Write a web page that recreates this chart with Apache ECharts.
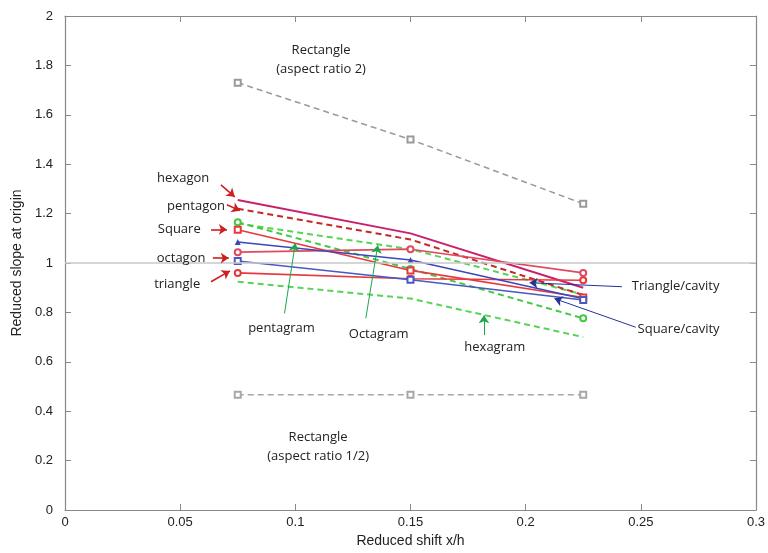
<!DOCTYPE html>
<html>
<head>
<meta charset="utf-8">
<script src="https://cdn.jsdelivr.net/npm/echarts@6/dist/echarts.min.js"></script>
<style>
  html, body { margin: 0; padding: 0; background: #fff; }
  #main { width: 768px; height: 553px; }
</style>
</head>
<body>
<div id="main"></div>
<script>
// reduced shift x/h
const shifts = [0.075, 0.15, 0.225];

// reduced slope at origin
const rectAR2 = [1.73, 1.50, 1.24];
const rectARhalf = [0.467, 0.467, 0.467];
const hexagon = [1.255, 1.12, 0.90];
const pentagon = [1.22, 1.095, 0.87];
const square = [1.135, 0.97, 0.86];
const octagon = [1.044, 1.056, 0.96];
const triangle = [0.96, 0.936, 0.93];
const triCavity = [1.085, 1.012, 0.855];
const sqCavity = [1.008, 0.932, 0.85];
const pentagram = [1.165, 0.976, 0.776];
const octagram = [1.16, 1.056, 0.872];
const hexagram = [0.924, 0.856, 0.70];

// annotations: text position and arrow (from, to), all in data units
const notes = [
  {text: 'Rectangle\n(aspect ratio 2)', at: [0.1112, 1.824]},
  {text: 'Rectangle\n(aspect ratio 1/2)', at: [0.1099, 0.256]},
  {text: 'hexagon', at: [0.0513, 1.344], color: '#cc2020', from: [0.0677, 1.316], to: [0.0737, 1.268]},
  {text: 'pentagon', at: [0.0569, 1.228], color: '#cc2020', from: [0.0703, 1.236], to: [0.0759, 1.212]},
  {text: 'Square', at: [0.0496, 1.136], color: '#cc2020', from: [0.0634, 1.136], to: [0.0703, 1.136]},
  {text: 'octagon', at: [0.0504, 1.02], color: '#cc2020', from: [0.0642, 1.02], to: [0.0711, 1.02]},
  {text: 'triangle', at: [0.0487, 0.912], color: '#cc2020', from: [0.0634, 0.924], to: [0.0716, 0.968]},
  {text: 'pentagram', at: [0.094, 0.736], color: '#1aa84a', from: [0.0953, 0.796], to: [0.1, 1.08]},
  {text: 'Octagram', at: [0.1362, 0.712], color: '#1aa84a', from: [0.1306, 0.776], to: [0.1358, 1.072]},
  {text: 'hexagram', at: [0.1866, 0.66], color: '#1aa84a', from: [0.1819, 0.708], to: [0.1819, 0.788]},
  {text: 'Triangle/cavity', at: [0.2651, 0.904], color: '#24339a', from: [0.2418, 0.904], to: [0.2017, 0.92]},
  {text: 'Square/cavity', at: [0.2664, 0.732], color: '#24339a', from: [0.2478, 0.74], to: [0.2125, 0.856]}
];

const toPairs = (vals) => shifts.map((x, i) => [x, vals[i]]);

function lineSeries(name, vals, color, dashed, symbol, width) {
  return {
    name: name,
    type: 'line',
    data: toPairs(vals),
    symbol: symbol || 'none',
    symbolSize: 6,
    showSymbol: !!symbol,
    lineStyle: {color: color, width: width || 1.6, type: dashed ? [6, 4] : 'solid'},
    itemStyle: {color: color, borderWidth: 1.3},
    z: 3
  };
}

const chart = echarts.init(document.getElementById('main'));

const arrows = notes.filter(n => n.from).map(n => [
  {coord: n.from, lineStyle: {color: n.color, width: n.color === '#cc2020' ? 1.6 : 1}},
  {coord: n.to}
]);

const boxAxis = {
  axisLine: {show: true, onZero: false, lineStyle: {color: '#888', width: 1.2}},
  axisTick: {show: true, inside: true, length: 6, lineStyle: {color: '#888'}},
  splitLine: {show: false}
};

const option = {
  backgroundColor: '#fff',
  animation: false,
  grid: {left: 65, right: 10, top: 16, bottom: 37},
  xAxis: [Object.assign({}, boxAxis, {
    type: 'value', min: 0, max: 0.3, interval: 0.05,
    name: 'Reduced shift x/h', nameLocation: 'middle', nameGap: 24,
    nameTextStyle: {fontFamily: 'Liberation Sans', fontSize: 14, color: '#222'},
    axisLabel: {fontFamily: 'Liberation Sans', fontSize: 13, color: '#222', margin: 6}
  }), Object.assign({}, boxAxis, {
    type: 'value', min: 0, max: 0.3, interval: 0.05, position: 'top',
    axisLabel: {show: false}
  })],
  yAxis: [Object.assign({}, boxAxis, {
    type: 'value', min: 0, max: 2, interval: 0.2,
    name: 'Reduced slope at origin', nameLocation: 'middle', nameGap: 40,
    nameTextStyle: {fontFamily: 'Liberation Sans', fontSize: 14, color: '#222'},
    axisLabel: {fontFamily: 'Liberation Sans', fontSize: 13, color: '#222', margin: 12}
  }), Object.assign({}, boxAxis, {
    type: 'value', min: 0, max: 2, interval: 0.2, position: 'right',
    axisLabel: {show: false}
  })],
  series: [
    {
      type: 'line', data: [], z: 1,
      markLine: {
        silent: true, symbol: 'none', label: {show: false},
        lineStyle: {color: '#c8c8c8', width: 1.5, type: 'solid'},
        data: [{yAxis: 1}]
      }
    },
    lineSeries('Rectangle AR 2', rectAR2, '#9a9a9a', true, 'emptyRect', 1.5),
    lineSeries('Rectangle AR 1/2', rectARhalf, '#a8a8a8', true, 'emptyRect', 1.5),
    lineSeries('hexagram', hexagram, '#55d455', true, null, 2),
    lineSeries('octagram', octagram, '#55d455', true, null, 2),
    lineSeries('pentagram', pentagram, '#44c844', true, 'emptyCircle', 2),
    lineSeries('pentagon', pentagon, '#c62828', true, null, 2),
    lineSeries('hexagon', hexagon, '#c8216a', false, null, 2),
    lineSeries('Square', square, '#e8383d', false, 'emptyRect', 1.6),
    lineSeries('octagon', octagon, '#e04a5e', false, 'emptyCircle', 1.6),
    lineSeries('triangle', triangle, '#e8383d', false, 'emptyCircle', 1.6),
    lineSeries('Triangle/cavity', triCavity, '#3a48b8', false, 'triangle', 1.6),
    lineSeries('Square/cavity', sqCavity, '#4a58c0', false, 'emptyRect', 1.6),
    {
      type: 'line', data: [], z: 5,
      markLine: {
        silent: true, symbol: ['none', 'arrow'], symbolSize: 8,
        label: {show: false},
        lineStyle: {type: 'solid'},
        data: arrows
      }
    }
  ]
};

chart.setOption(option);

// place annotation texts from data coordinates
const texts = notes.map(n => {
  const p = chart.convertToPixel({xAxisIndex: 0, yAxisIndex: 0}, n.at);
  return {
    type: 'text', x: p[0], y: p[1], z: 10,
    style: {
      text: n.text, fill: '#222', align: 'center', verticalAlign: 'middle',
      font: '13px "Open Sans"', lineHeight: 19
    }
  };
});
chart.setOption({graphic: texts});
</script>
</body>
</html>
